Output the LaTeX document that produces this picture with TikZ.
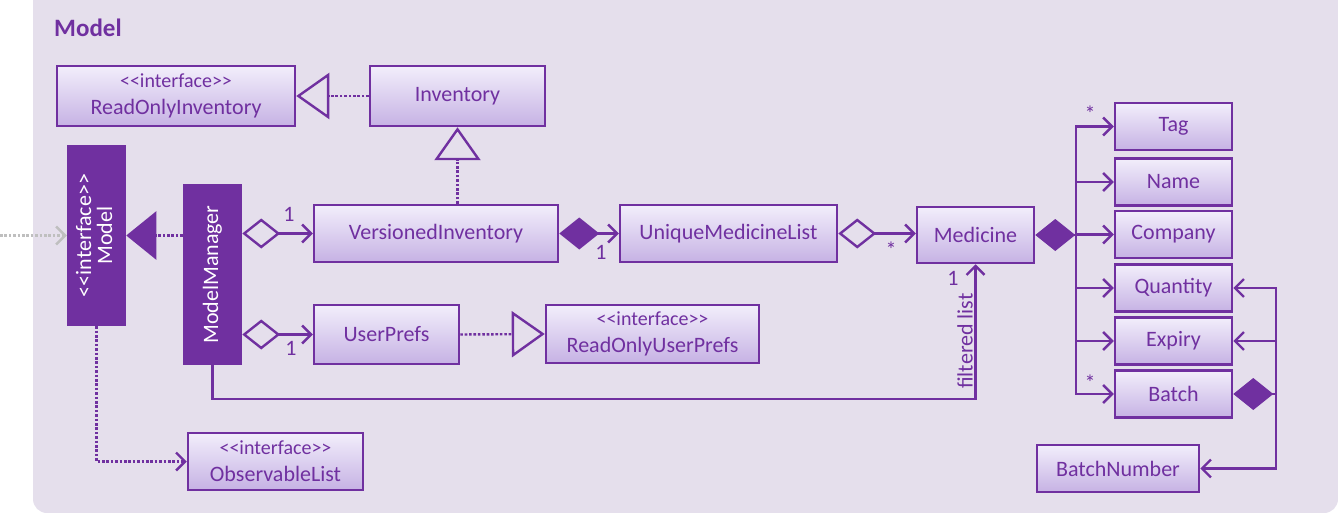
\documentclass[tikz,border=0pt]{standalone}
\usepackage{fontspec}
\setmainfont{Carlito}
\usetikzlibrary{arrows.meta,calc}
\definecolor{pur}{HTML}{7030A0}
\definecolor{pkg}{HTML}{E5DFEC}
\definecolor{btop}{HTML}{F2EEFB}
\definecolor{bbot}{HTML}{C6B2E4}
\definecolor{ext}{HTML}{BFBFBF}
\newcommand\stersz{\fontsize{20}{22}\selectfont}
\tikzset{
  cls/.style={draw=pur, line width=2.5pt, top color=btop, bottom color=bbot, text=pur,
    font=\fontsize{22}{27}\selectfont, inner sep=0pt, align=center},
  darkcls/.style={draw=pur, line width=2.5pt, fill=pur, text=white,
    font=\fontsize{22}{25}\selectfont, inner sep=0pt},
  conn/.style={draw=pur, line width=2.4pt},
  dots/.style={conn, dash pattern=on 2.6pt off 1.8pt},
  openarr/.style={-{Straight Barb[length=9pt,width=18pt]}},
  hdiam/.style={{Diamond[open,length=38pt,width=30pt]}-{Straight Barb[length=9pt,width=18pt]}},
  fdiam/.style={{Diamond[length=40pt,width=32pt]}-{Straight Barb[length=9pt,width=18pt]}},
  otri/.style={-{Triangle[open,length=33pt,width=46pt]}},
  ftri/.style={-{Triangle[length=30pt,width=48pt]}},
  mult/.style={text=pur, font=\fontsize{22}{24}\selectfont, inner sep=0pt},
  star/.style={text=pur, font=\fontsize{22}{24}\selectfont, inner sep=0pt}
}
\begin{document}
\begin{tikzpicture}[x=1pt,y=-1pt]
\useasboundingbox (0,0) rectangle (1338,513);
\fill[pkg, rounded corners=14pt] (33,-20) rectangle (1338,513);
\node[text=pur, font=\bfseries\fontsize{25}{28}\selectfont, anchor=west, inner sep=0pt] (title) at (54,28) {Model};

% classes
\node[cls, minimum width=238pt, minimum height=60pt] (roi) at (176,96) {{\stersz <{}<interface>{}>}\\ReadOnlyInventory};
\node[cls, minimum width=175pt, minimum height=60pt] (inv) at (457.5,96) {Inventory};
\node[darkcls, minimum width=57pt, minimum height=179pt] (mi) at (96.5,235.5)
  {\rotatebox{90}{\begin{tabular}{@{}c@{}}<{}<interface>{}>\\[-4pt]Model\end{tabular}}};
\node[darkcls, minimum width=57pt, minimum height=179pt] (mm) at (212.5,274.5)
  {\rotatebox{90}{ModelManager}};
\node[cls, minimum width=244pt, minimum height=57pt] (vi) at (436,233.5) {VersionedInventory};
\node[cls, minimum width=217pt, minimum height=57pt] (uml) at (728.5,233.5) {UniqueMedicineList};
\node[cls, minimum width=117pt, minimum height=56pt] (med) at (975.5,235) {Medicine};
\node[cls, minimum width=145pt, minimum height=59pt] (up) at (386.5,334.5) {UserPrefs};
\node[cls, minimum width=213pt, minimum height=58pt] (rup) at (652.5,334) {{\stersz <{}<interface>{}>}\\ReadOnlyUserPrefs};
\node[cls, minimum width=175pt, minimum height=57pt] (ol) at (275.5,461.5) {{\stersz <{}<interface>{}>}\\ObservableList};

\node[cls, minimum width=117pt, minimum height=47pt] (tag) at (1173.5,126.5) {Tag};
\node[cls, minimum width=117pt, minimum height=47pt] (name) at (1173.5,182) {Name};
\node[cls, minimum width=117pt, minimum height=47pt] (comp) at (1173.5,234.5) {Company};
\node[cls, minimum width=117pt, minimum height=47pt] (qty) at (1173.5,288) {Quantity};
\node[cls, minimum width=117pt, minimum height=47pt] (exp) at (1173.5,341) {Expiry};
\node[cls, minimum width=117pt, minimum height=47pt] (bat) at (1173.5,394) {Batch};
\node[cls, minimum width=162pt, minimum height=47pt] (bn) at (1118,468.5) {BatchNumber};

% connectors
\draw[dots, otri] (inv.west) -- (roi.east);
\draw[dots, otri] (vi.north -| inv.south) -- (inv.south);
\draw[dots, ftri] (mm.west |- mi.east) -- (mi.east);
\coordinate (outside) at (0,235.5);
\draw[draw=ext, line width=2.4pt, dash pattern=on 2.6pt off 1.8pt, -{Straight Barb[length=9pt,width=18pt]}] (outside) -- (mi.west);
\draw[conn, hdiam] (mm.east |- vi.west) -- (vi.west);
\draw[conn, hdiam] (mm.east |- up.west) -- (up.west);
\draw[conn, fdiam] (vi.east) -- (uml.west);
\draw[conn, hdiam] (uml.east) -- (uml.east -| med.west);
\draw[dots, otri] (up.east) -- (rup.west);
\draw[dots, openarr] (mi.south) |- (ol.west);
\draw[conn, openarr] (mm.south) -- ++(0,34) -| (med.south);

\coordinate (bus) at ($(med.east)+(41,0)$);
\draw[conn, {Diamond[length=40pt,width=32pt]}-] (med.east) -- (bus);
\draw[conn, openarr] (bus) |- (tag.west);
\draw[conn, openarr] (bus) |- (name.west);
\draw[conn, openarr] (bus) |- (comp.west);
\draw[conn, openarr] (bus) |- (qty.west);
\draw[conn, openarr] (bus) |- (exp.west);
\draw[conn, openarr] (bus) |- (bat.west);

\coordinate (bbus) at ($(bat.east)+(43,0)$);
\draw[conn, {Diamond[length=40pt,width=32pt]}-] (bat.east) -- (bbus);
\draw[conn, openarr] (bbus) |- (qty.east);
\draw[conn, openarr] (bbus) |- (exp.east);
\draw[conn, openarr] (bbus) |- (bn.east);

% multiplicities and labels
\node[mult] (m1) at (289,214) {1};
\node[mult] (m2) at (291,348) {1};
\node[mult] (m3) at (601,252) {1};
\node[star] (m4) at (891,250) {*};
\node[mult] (m5) at (953,278) {1};
\node[star] (m6) at (1090,114) {*};
\node[star] (m7) at (1090,383) {*};
\node[mult, rotate=90] (fl) at (965,341) {filtered list};
\end{tikzpicture}
\end{document}
